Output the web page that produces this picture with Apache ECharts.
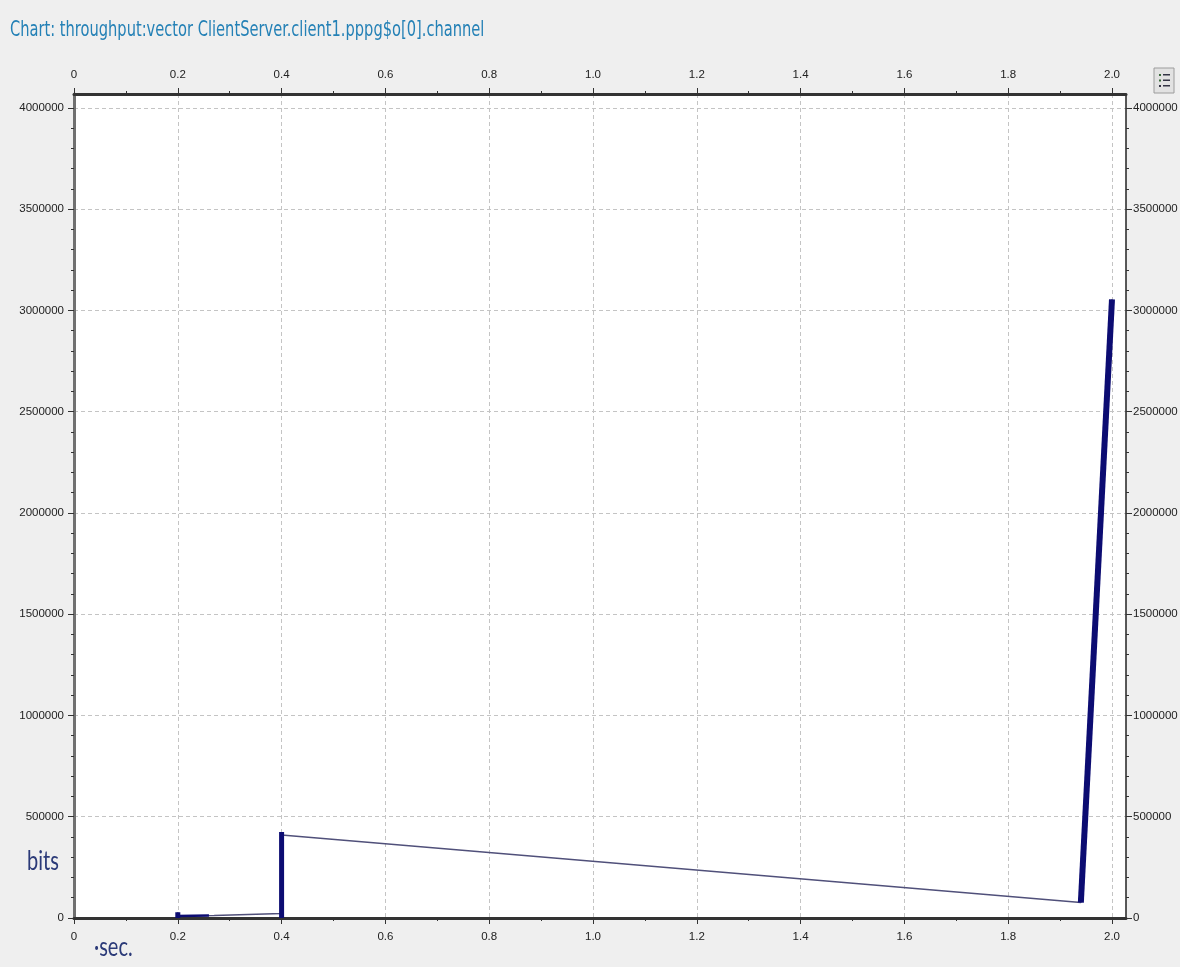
<!DOCTYPE html>
<html>
<head>
<meta charset="utf-8">
<script src="https://cdn.jsdelivr.net/npm/echarts@6/dist/echarts.min.js"></script>
<style>
  html, body { margin: 0; padding: 0; background: #efefef; }
  #chart { width: 1180px; height: 967px; }
</style>
</head>
<body>
<div id="chart"></div>
<script>
// ---- data ----
const titleText = 'Chart: throughput:vector ClientServer.client1.pppg$o[0].channel';
const xTickValues = [0, 0.2, 0.4, 0.6, 0.8, 1.0, 1.2, 1.4, 1.6, 1.8, 2.0];
const xTickLabels = ['0', '0.2', '0.4', '0.6', '0.8', '1.0', '1.2', '1.4', '1.6', '1.8', '2.0'];
const yTickValues = [0, 500000, 1000000, 1500000, 2000000, 2500000, 3000000, 3500000, 4000000];
const yTickLabels = ['0', '500000', '1000000', '1500000', '2000000', '2500000', '3000000', '3500000', '4000000'];

// full vector path (seconds, bits)
const pathSec  = [0.2,   0.2,   0.27,  0.4,   0.4,    0.4,    1.94,  2.0];
const pathBits = [28000, 10000, 12000, 22000, 425000, 410000, 76000, 3055000];
// dense bursts (drawn thick)
const burstASec  = [0.2, 0.2];
const burstABits = [0,   28000];
const burstA2Sec  = [0.2,   0.26];
const burstA2Bits = [10000, 12000];
const burstBSec  = [0.4, 0.4];
const burstBBits = [0,   425000];
const burstCSec  = [1.94,  2.0];
const burstCBits = [76000, 3055000];

// minor tick positions
const xMinorTicks = [];
for (let i = 1; i < 20; i += 2) xMinorTicks.push(+(i * 0.1).toFixed(1));
const yMinorTicks = [];
for (let v = 100000; v < 4000000; v += 100000) if (v % 500000 !== 0) yMinorTicks.push(v);

const zip = (a, b) => a.map((v, i) => [v, b[i]]);
const labelOf = (vals, labels) => (v) => {
  for (let i = 0; i < vals.length; i++) if (Math.abs(vals[i] - v) < 1e-9 * Math.max(1, Math.abs(v))) return labels[i];
  return '';
};

const NARROW = "'Liberation Sans Narrow', 'DejaVu Sans Condensed', sans-serif";
const X_MAX = 2.027, Y_MAX = 4069000;

const labelStyle = { fontFamily: "'Liberation Sans Narrow', 'Liberation Sans', sans-serif", fontSize: 11.5, color: '#222' };
const dashed = { show: true, lineStyle: { color: '#c4c4c4', width: 1, type: [4, 3] } };

function xAx(pos, major, extra) {
  return Object.assign({
    type: 'value', position: pos, min: 0, max: X_MAX,
    axisLine: { show: major, onZero: false, lineStyle: { color: '#333', width: 3 } },
    axisTick: { show: true, customValues: major ? xTickValues : xMinorTicks, length: major ? 6 : 3, lineStyle: { color: '#333', width: 1 } },
    axisLabel: major ? Object.assign({ show: true, margin: 13, customValues: xTickValues, formatter: labelOf(xTickValues, xTickLabels) }, labelStyle) : { show: false },
    splitLine: { show: false }
  }, extra || {});
}
function yAx(pos, major, lineColor, lineWidth, margin, extra) {
  return Object.assign({
    type: 'value', position: pos, min: 0, max: Y_MAX,
    axisLine: { show: major, onZero: false, lineStyle: { color: lineColor, width: lineWidth } },
    axisTick: { show: true, customValues: major ? yTickValues : yMinorTicks, length: major ? 6 : 3, lineStyle: { color: '#333', width: 1 } },
    axisLabel: major ? Object.assign({ show: true, margin: margin, customValues: yTickValues, formatter: labelOf(yTickValues, yTickLabels) }, labelStyle) : { show: false },
    splitLine: { show: false }
  }, extra || {});
}

const chart = echarts.init(document.getElementById('chart'), null, { renderer: 'canvas' });
const thin = { color: '#50507a', width: 1.5 };
const thick = (w) => ({ color: '#0c0c72', width: w, cap: 'butt', join: 'miter' });

chart.setOption({
  animation: false,
  backgroundColor: '#efefef',
  grid: { left: 74, top: 94, width: 1052, height: 824, show: true, backgroundColor: '#ffffff', borderWidth: 0,
          containLabel: false, outerBoundsMode: 'none' },
  xAxis: [
    xAx('bottom', true, { splitLine: dashed }),
    xAx('top', true),
    xAx('bottom', false),
    xAx('top', false)
  ],
  yAxis: [
    yAx('left', true, '#707070', 3, 10, { splitLine: dashed }),
    yAx('right', true, '#222', 1.5, 7),
    yAx('left', false),
    yAx('right', false)
  ],
  series: [
    { type: 'line', name: 'path', data: zip(pathSec, pathBits), showSymbol: false, lineStyle: thin, z: 3 },
    { type: 'line', name: 'burstA', data: zip(burstASec, burstABits), showSymbol: false, lineStyle: thick(5), z: 4 },
    { type: 'line', name: 'burstA2', data: zip(burstA2Sec, burstA2Bits), showSymbol: false, lineStyle: thick(2.5), z: 4 },
    { type: 'line', name: 'burstB', data: zip(burstBSec, burstBBits), showSymbol: false, lineStyle: thick(5), z: 4 },
    { type: 'line', name: 'burstC', data: zip(burstCSec, burstCBits), showSymbol: false, lineStyle: thick(6), z: 4 }
  ],
  graphic: [
    { type: 'text', x: 10, y: 31, scaleY: 1.3,
      style: { text: titleText, font: "16.3px " + NARROW, fill: '#2481b6', verticalAlign: 'middle', align: 'left' } },
    { type: 'text', x: 27, y: 862, scaleY: 1.3,
      style: { text: 'bits', font: "20px Lato, 'Open Sans', sans-serif", fill: '#2b3a78', verticalAlign: 'middle', align: 'left' } },
    { type: 'text', x: 94, y: 948, scaleY: 1.3,
      style: { text: '·sec.', font: "20px Lato, 'Open Sans', sans-serif", fill: '#2b3a78', verticalAlign: 'middle', align: 'left' } },
    { type: 'group', x: 1154, y: 68, children: [
      { type: 'rect', shape: { x: 0, y: 0, width: 20, height: 25 }, style: { fill: '#e2e2e2', stroke: '#9c9c9c', lineWidth: 1 } },
      { type: 'rect', shape: { x: 5, y: 6, width: 2, height: 2 }, style: { fill: '#3a6a3a' } },
      { type: 'rect', shape: { x: 9, y: 6, width: 7, height: 1.5 }, style: { fill: '#334' } },
      { type: 'rect', shape: { x: 5, y: 11.5, width: 2, height: 2 }, style: { fill: '#3a6a3a' } },
      { type: 'rect', shape: { x: 9, y: 11.5, width: 7, height: 1.5 }, style: { fill: '#334' } },
      { type: 'rect', shape: { x: 5, y: 17, width: 2, height: 2 }, style: { fill: '#334' } },
      { type: 'rect', shape: { x: 9, y: 17, width: 7, height: 1.5 }, style: { fill: '#334' } }
    ] }
  ]
});
</script>
</body>
</html>
